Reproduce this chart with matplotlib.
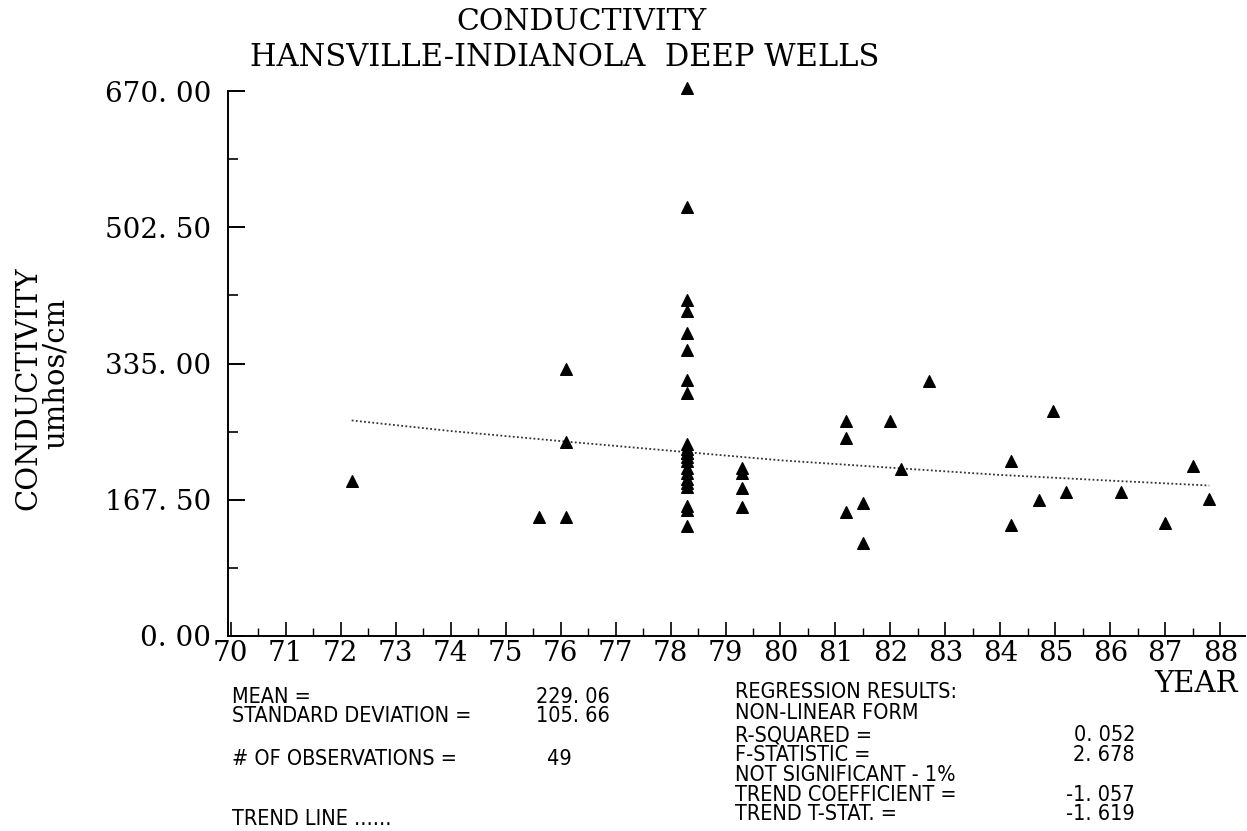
import numpy as np
import matplotlib.pyplot as plt

# Observations (year, conductivity umhos/cm)
years = [72.2,
         75.6, 76.1, 76.1, 76.1,
         78.3, 78.3, 78.3, 78.3, 78.3, 78.3, 78.3, 78.3, 78.3, 78.3, 78.3,
         78.3, 78.3, 78.3, 78.3, 78.3, 78.3, 78.3, 78.3, 78.3, 78.3, 78.3,
         79.3, 79.3, 79.3, 79.3,
         81.2, 81.2, 81.2, 81.5, 81.5, 82.0, 82.2, 82.7,
         84.2, 84.2, 84.7, 84.96, 85.2, 86.2, 87.0, 87.5, 87.8]
conductivity = [191,
                146, 328, 238, 146,
                674, 528, 413, 400, 372, 352, 315, 299, 236, 230, 225,
                225, 220, 215, 206, 200, 193, 188, 183, 160, 155, 135,
                207, 200, 182, 158,
                264, 244, 153, 164, 114, 264, 205, 314,
                215, 136, 167, 276, 177, 177, 139, 209, 169]

# Non-linear trend line, sampled from the plot
trend_years = [72.2, 74.0, 76.1, 78.3, 80.0, 82.2, 84.0, 86.0, 87.8]
trend_values = [265, 252, 239, 226, 216, 206, 198, 191, 185]

y_ticks = [0.0, 167.5, 335.0, 502.5, 670.0]
y_tick_labels = ["0. 00", "167. 50", "335. 00", "502. 50", "670. 00"]
x_ticks = list(range(70, 89))

W, H = 1247, 831
fig = plt.figure(figsize=(W / 100, H / 100), dpi=100)
ax = fig.add_axes([228 / W, 1 - 636 / H, (1245 - 228) / W, (636 - 91) / H])

ax.scatter(years, conductivity, marker='^', s=70, color='black', zorder=3,
           clip_on=False)
ax.plot(trend_years, trend_values, color='#333333', linestyle=(0, (1, 1.3)),
        linewidth=1.3)

ax.set_xlim(69.95, 88.45)
ax.set_ylim(0, 670)
ax.spines['top'].set_visible(False)
ax.spines['right'].set_visible(False)
for s in ('left', 'bottom'):
    ax.spines[s].set_linewidth(1.4)

serif = 'DejaVu Serif'
ax.set_yticks(y_ticks)
ax.set_yticklabels(y_tick_labels, fontfamily=serif, fontsize=20)
ax.set_yticks(np.arange(83.75, 670, 167.5), minor=True)
ax.set_xticks(x_ticks)
ax.set_xticklabels([str(x) for x in x_ticks], fontfamily=serif, fontsize=20)
ax.set_xticks(np.arange(70.5, 88.5, 1.0), minor=True)
ax.tick_params(axis='y', which='major', direction='in', length=12, width=1.4, pad=12)
ax.tick_params(axis='y', which='minor', direction='in', length=7, width=1.2)
ax.tick_params(axis='x', which='major', direction='in', length=10, width=1.2, pad=3)
ax.tick_params(axis='x', which='minor', direction='in', length=6, width=1.0)

# Titles
fig.text(582 / W, 1 - 22 / H, "CONDUCTIVITY", ha='center', va='center',
         fontfamily=serif, fontsize=21.5)
fig.text(565 / W, 1 - 58 / H, "HANSVILLE-INDIANOLA  DEEP WELLS", ha='center',
         va='center', fontfamily=serif, fontsize=22)
fig.text(28 / W, 1 - 388 / H, "CONDUCTIVITY", rotation=90, ha='center',
         va='center', fontfamily=serif, fontsize=21)
fig.text(56 / W, 1 - 373 / H, "umhos/cm", rotation=90, ha='center',
         va='center', fontfamily=serif, fontsize=21)
fig.text(1238 / W, 1 - 684 / H, "YEAR", ha='right', va='center',
         fontfamily=serif, fontsize=21)

# Statistics block
stat_font = dict(fontfamily='DejaVu Sans', fontstretch='condensed',
                 fontsize=15.5, va='center')
left_labels = [("MEAN =", 697), ("STANDARD DEVIATION =", 716),
               ("# OF OBSERVATIONS =", 759), ("TREND LINE ......", 819)]
left_values = [("229. 06", 697), ("105. 66", 716), ("49", 759)]
for txt, y in left_labels:
    fig.text(232 / W, 1 - y / H, txt, ha='left', **stat_font)
for txt, y in left_values:
    fig.text(610 / W if txt != "49" else 572 / W, 1 - y / H, txt, ha='right',
             **stat_font)

right_labels = [("REGRESSION RESULTS:", 692), ("NON-LINEAR FORM", 713),
                ("R-SQUARED =", 735), ("F-STATISTIC =", 755),
                ("NOT SIGNIFICANT - 1%", 775), ("TREND COEFFICIENT =", 795),
                ("TREND T-STAT. =", 814)]
right_values = [("0. 052", 735), ("2. 678", 755), ("-1. 057", 795),
                ("-1. 619", 814)]
for txt, y in right_labels:
    fig.text(735 / W, 1 - y / H, txt, ha='left', **stat_font)
for txt, y in right_values:
    fig.text(1135 / W, 1 - y / H, txt, ha='right', **stat_font)

fig.savefig("out.png", dpi=100)
